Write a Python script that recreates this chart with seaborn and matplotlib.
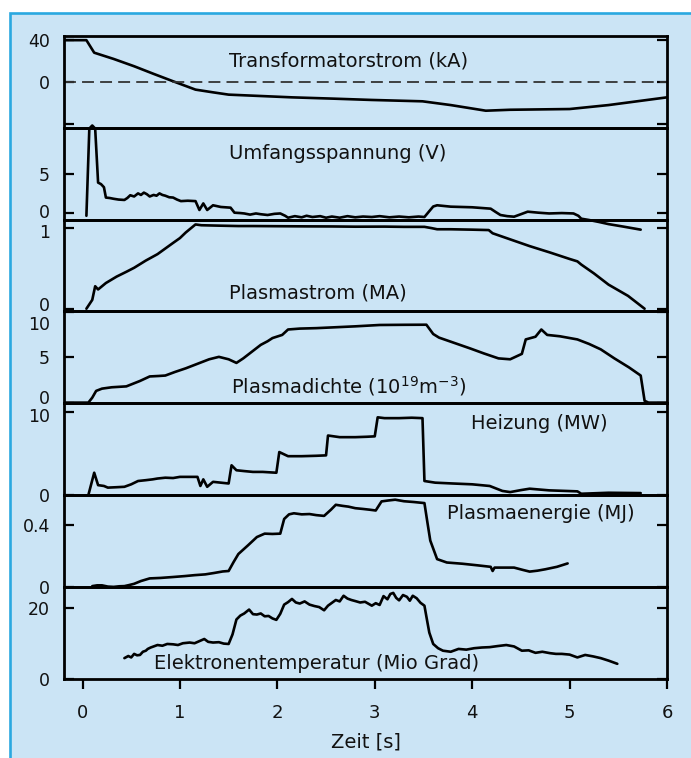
import matplotlib
matplotlib.use("Agg")
import matplotlib.pyplot as plt
import matplotlib.transforms as mtrans
from matplotlib.patches import Rectangle
import seaborn as sns

# ---------------- data ----------------
trafo_t = [-0.19, 0.04, 0.12, 0.32, 0.53, 0.73, 0.93, 1.16, 1.34, 1.50, 1.75, 2.15,
           2.56, 2.97, 3.49, 3.78, 4.14, 4.39, 5.00, 5.40, 6.00]
trafo_v = [40, 40, 28, 22, 15, 7.7, 0.6, -7.4, -10, -12.2, -13.2, -14.8,
           -16, -17.3, -18.6, -22.2, -27.6, -26.7, -26, -22.2, -14.8]

umf_t = [0.04, 0.07, 0.10, 0.13, 0.16, 0.19, 0.22, 0.24, 0.28, 0.32, 0.37, 0.43, 0.46,
         0.49, 0.53, 0.57, 0.60, 0.63, 0.66, 0.69, 0.73, 0.76, 0.79, 0.82, 0.85, 0.89,
         0.93, 0.97, 1.01, 1.08, 1.16, 1.20, 1.24, 1.28, 1.34, 1.42, 1.52, 1.56, 1.62,
         1.66, 1.72, 1.78, 1.83, 1.90, 1.97, 2.03, 2.08, 2.11, 2.18, 2.25, 2.30, 2.36,
         2.44, 2.50, 2.56, 2.64, 2.72, 2.80, 2.88, 2.97, 3.05, 3.15, 3.25, 3.35, 3.45,
         3.51, 3.56, 3.60, 3.64, 3.78, 4.00, 4.19, 4.24, 4.29, 4.36, 4.43, 4.50, 4.57,
         4.68, 4.79, 4.92, 5.04, 5.09, 5.12, 5.20, 5.30, 5.40, 5.55, 5.73]
umf_v = [-0.4, 10.9, 11.3, 10.9, 3.9, 3.7, 3.3, 1.96, 1.9, 1.8, 1.7, 1.65, 1.9,
         2.26, 2.1, 2.5, 2.3, 2.6, 2.4, 2.1, 2.3, 2.2, 2.5, 2.3, 2.2, 2.0,
         1.96, 1.7, 1.5, 1.55, 1.5, 0.35, 1.2, 0.35, 0.96, 0.74, 0.65, 0.0, -0.05,
         -0.1, -0.25, -0.1, -0.2, -0.3, -0.15, -0.1, -0.4, -0.65, -0.45, -0.6, -0.4, -0.56,
         -0.45, -0.65, -0.5, -0.65, -0.45, -0.6, -0.5, -0.56, -0.45, -0.6, -0.5, -0.6, -0.5,
         -0.56, 0.2, 0.8, 0.96, 0.78, 0.7, 0.52, 0.1, -0.3, -0.45, -0.52, -0.2, 0.13,
         0.0, -0.1, -0.05, -0.1, -0.4, -0.78, -0.95, -1.2, -1.48, -1.8, -2.2]

ip_t = [0.04, 0.10, 0.13, 0.16, 0.24, 0.35, 0.45, 0.53, 0.65, 0.77, 0.85, 0.93, 1.00,
        1.06, 1.16, 1.22, 1.40, 1.60, 1.75, 2.00, 2.30, 2.56, 2.80, 3.10, 3.30, 3.51,
        3.58, 3.64, 3.78, 4.00, 4.17, 4.21, 4.40, 4.59, 4.80, 5.00, 5.08, 5.12, 5.25,
        5.40, 5.60, 5.77]
ip_v = [0, 0.11, 0.28, 0.24, 0.32, 0.40, 0.46, 0.51, 0.60, 0.68, 0.75, 0.82, 0.88,
        0.95, 1.05, 1.04, 1.035, 1.03, 1.03, 1.028, 1.026, 1.025, 1.022, 1.023, 1.02, 1.02,
        1.005, 0.99, 0.99, 0.985, 0.98, 0.94, 0.86, 0.78, 0.70, 0.62, 0.59, 0.55, 0.44,
        0.30, 0.16, 0.0]

ne_t = [-0.19, 0.06, 0.10, 0.14, 0.20, 0.30, 0.45, 0.52, 0.59, 0.69, 0.78, 0.85, 0.95,
        1.06, 1.18, 1.30, 1.40, 1.50, 1.58, 1.65, 1.71, 1.77, 1.83, 1.90, 1.95, 2.05,
        2.11, 2.23, 2.40, 2.56, 2.80, 3.05, 3.30, 3.53, 3.60, 3.66, 3.82, 3.98, 4.12,
        4.27, 4.39, 4.51, 4.55, 4.65, 4.71, 4.77, 4.90, 5.08, 5.20, 5.32, 5.46, 5.61,
        5.73, 5.77, 5.81, 6.00]
ne_v = [0, 0, 0.55, 1.3, 1.55, 1.7, 1.8, 2.1, 2.4, 2.9, 2.95, 3.0, 3.4,
        3.8, 4.3, 4.8, 5.07, 4.8, 4.4, 4.9, 5.4, 5.9, 6.4, 6.8, 7.15, 7.5,
        8.1, 8.2, 8.25, 8.33, 8.45, 8.6, 8.62, 8.63, 7.6, 7.2, 6.6, 6.0, 5.45,
        4.9, 4.8, 5.4, 7.0, 7.3, 8.1, 7.5, 7.35, 7.0, 6.5, 5.9, 4.9, 3.9,
        3.0, 0.2, 0, 0]

heiz_t = [0.06, 0.12, 0.16, 0.22, 0.26, 0.35, 0.43, 0.50, 0.57, 0.65, 0.72, 0.77, 0.85,
          0.93, 1.00, 1.08, 1.18, 1.21, 1.24, 1.28, 1.34, 1.42, 1.50, 1.53, 1.58, 1.66,
          1.75, 1.85, 1.99, 2.02, 2.11, 2.25, 2.40, 2.50, 2.52, 2.64, 2.80, 2.92, 3.00,
          3.03, 3.10, 3.25, 3.38, 3.49, 3.51, 3.62, 3.80, 4.00, 4.18, 4.31, 4.39, 4.50,
          4.59, 4.79, 5.08, 5.12, 5.40, 5.73]
heiz_v = [0, 2.7, 1.2, 1.1, 0.9, 0.95, 1.0, 1.3, 1.7, 1.8, 1.9, 2.0, 2.1,
          2.06, 2.2, 2.2, 2.2, 1.1, 1.9, 1.0, 1.6, 1.5, 1.4, 3.6, 3.0, 2.9,
          2.8, 2.8, 2.7, 5.2, 4.7, 4.7, 4.75, 4.8, 7.2, 7.0, 7.0, 7.05, 7.1,
          9.4, 9.3, 9.3, 9.35, 9.3, 1.7, 1.5, 1.4, 1.3, 1.1, 0.5, 0.36, 0.6,
          0.77, 0.57, 0.45, 0.16, 0.28, 0.24]

wp_t = [0.10, 0.15, 0.20, 0.26, 0.32, 0.38, 0.43, 0.48, 0.53, 0.60, 0.69, 0.80, 0.93,
        1.05, 1.15, 1.26, 1.35, 1.44, 1.50, 1.55, 1.60, 1.70, 1.79, 1.87, 1.95, 2.03,
        2.07, 2.12, 2.17, 2.25, 2.33, 2.40, 2.48, 2.55, 2.60, 2.67, 2.73, 2.80, 2.88,
        2.95, 3.01, 3.07, 3.14, 3.21, 3.30, 3.40, 3.51, 3.54, 3.57, 3.64, 3.74, 3.90,
        4.05, 4.19, 4.21, 4.23, 4.33, 4.43, 4.52, 4.59, 4.67, 4.75, 4.87, 4.98]
wp_v = [0.005, 0.01, 0.01, 0.002, 0.0, 0.004, 0.005, 0.012, 0.02, 0.038, 0.055, 0.058, 0.064,
        0.07, 0.076, 0.081, 0.09, 0.1, 0.103, 0.16, 0.213, 0.27, 0.323, 0.345, 0.343, 0.345,
        0.44, 0.47, 0.477, 0.47, 0.472, 0.465, 0.46, 0.50, 0.532, 0.525, 0.52, 0.51, 0.505,
        0.50, 0.495, 0.554, 0.56, 0.565, 0.555, 0.55, 0.543, 0.42, 0.30, 0.18, 0.158, 0.15,
        0.14, 0.13, 0.103, 0.125, 0.125, 0.125, 0.11, 0.099, 0.105, 0.114, 0.13, 0.152]

te_t = [0.43, 0.47, 0.50, 0.53, 0.56, 0.59, 0.62, 0.65, 0.67, 0.70, 0.74, 0.77, 0.82,
        0.87, 0.93, 0.98, 1.03, 1.10, 1.15, 1.20, 1.25, 1.29, 1.34, 1.40, 1.45, 1.50,
        1.54, 1.58, 1.62, 1.66, 1.71, 1.75, 1.79, 1.83, 1.87, 1.91, 1.95, 1.99, 2.03,
        2.07, 2.11, 2.15, 2.19, 2.23, 2.28, 2.33, 2.38, 2.43, 2.48, 2.52, 2.56, 2.60,
        2.64, 2.68, 2.72, 2.76, 2.80, 2.85, 2.90, 2.97, 3.01, 3.05, 3.09, 3.13, 3.16,
        3.19, 3.22, 3.25, 3.29, 3.33, 3.36, 3.39, 3.43, 3.47, 3.51, 3.54, 3.56, 3.60,
        3.65, 3.70, 3.78, 3.86, 3.94, 4.02, 4.10, 4.18, 4.26, 4.35, 4.43, 4.51, 4.58,
        4.65, 4.72, 4.80, 4.86, 4.92, 5.00, 5.08, 5.16, 5.24, 5.32, 5.40, 5.49]
te_v = [5.8, 6.4, 6.0, 7.0, 6.6, 6.7, 7.6, 7.9, 8.4, 8.8, 9.2, 9.5, 9.3,
        9.8, 9.7, 9.5, 10.0, 10.2, 10.0, 10.6, 11.2, 10.4, 10.2, 10.3, 9.9, 9.8,
        12.5, 16.7, 17.8, 18.4, 19.5, 18.2, 18.1, 18.4, 17.6, 17.7, 17.0, 16.6, 18.3,
        20.9, 21.6, 22.5, 21.5, 21.2, 21.8, 20.9, 20.5, 20.2, 19.3, 20.6, 21.4, 22.2,
        21.8, 23.4, 22.6, 22.2, 21.9, 21.5, 21.7, 20.6, 21.3, 20.8, 23.3, 22.4, 23.9,
        24.2, 22.8, 22.1, 23.6, 23.1, 22.0, 23.4, 22.7, 21.4, 20.6, 16.0, 13.0, 9.8,
        8.6, 7.9, 7.6, 8.4, 8.2, 8.6, 8.8, 8.9, 9.2, 9.5, 9.1, 7.9, 8.0,
        7.3, 7.6, 7.2, 7.0, 7.0, 6.8, 6.0, 6.7, 6.3, 5.8, 5.1, 4.2]

titles = ["Transformatorstrom (kA)", "Umfangsspannung (V)", "Plasmastrom (MA)",
          r"Plasmadichte (10$^{19}$m$^{-3}$)", "Heizung (MW)", "Plasmaenergie (MJ)",
          "Elektronentemperatur (Mio Grad)"]
title_pos = [(2.73, 20.5), (2.62, 7.7), (2.42, 0.196), (2.73, 1.85),
             (4.69, 8.6), (4.70, 0.477), (2.40, 4.2)]
series = [(trafo_t, trafo_v), (umf_t, umf_v), (ip_t, ip_v), (ne_t, ne_v),
          (heiz_t, heiz_v), (wp_t, wp_v), (te_t, te_v)]
ylims = [(-44, 44), (-0.9, 11.0), (-0.034, 1.11), (-0.07, 10.1),
         (0, 11.1), (0, 0.595), (0, 25.9)]
yticks = [[-40, 0, 40], [0, 5], [0, 1], [0, 5, 10], [0, 10], [0, 0.4], [0, 20]]
yticklabels = [["", "0", "40"], ["0", "5"], ["0", "1"], ["0", "5", "10"],
               ["0", "10"], ["0", "0.4"], ["0", "20"]]
# tick-label nudges in px (positive = down), as in the reference
label_shift = {(1, 0): -2, (2, 1): 3, (2, 0): -5, (3, 0): -6, (3, 2): 11, (4, 1): 3}
xticks = [0, 1, 2, 3, 4, 5, 6]

# ---------------- style ----------------
sns.set_theme(style="ticks")
plt.rcParams["font.family"] = ["DejaVu Sans"]
plt.rcParams["mathtext.default"] = "regular"
plt.rcParams["text.color"] = "#111111"

BG = "#cbe4f5"
fig = plt.figure(figsize=(6.91, 7.58), dpi=100, facecolor="white")
fig.patches.append(Rectangle((9.5 / 691, -0.05), 1.2, 1 - 12.5 / 758 + 0.05,
                             transform=fig.transFigure, facecolor=BG,
                             edgecolor="#2aa8e0", lw=1.9, zorder=-10))

left, right = 64 / 691, 667 / 691
top, bottom = 1 - 36 / 758, 1 - 678.7 / 758
h = (top - bottom) / 7

for i in range(7):
    ax = fig.add_axes([left, top - (i + 1) * h, right - left, h])
    ax.set_facecolor("none")
    t, v = series[i]
    sns.lineplot(x=t, y=v, ax=ax, color="black", lw=1.9, estimator=None,
                 sort=False, legend=False)
    if i == 1:
        ax.lines[-1].set_clip_on(False)
    if i == 0:
        ax.axhline(0, color="#333333", lw=1.3, ls=(0, (6.6, 3.4)))
    ax.set_xlim(-0.19, 6.0)
    ax.set_ylim(*ylims[i])
    ax.set_yticks(yticks[i])
    ax.set_yticklabels(yticklabels[i], fontsize=12.5, color="#111111")
    ax.set_xlabel("")
    ax.set_ylabel("")
    for s in ax.spines.values():
        s.set_linewidth(2.0)
        s.set_color("black")
    ax.tick_params(axis="y", which="both", direction="in", left=True, right=True,
                   length=7, width=1.6, pad=10, color="black")
    if i < 6:
        ax.tick_params(axis="x", bottom=False, labelbottom=False)
    else:
        ax.set_xticks(xticks)
        ax.set_xticklabels([str(x) for x in xticks], fontsize=13, color="#111111")
        ax.tick_params(axis="x", direction="out", length=7, width=1.6, pad=11,
                       color="black")
        ax.set_xlabel("Zeit [s]", fontsize=14, labelpad=8, color="#111111")
    ax.text(title_pos[i][0], title_pos[i][1], titles[i], ha="center", va="center",
            fontsize=14, color="#111111")
    labs = ax.get_yticklabels()
    for (pi, li), dy in label_shift.items():
        if pi == i:
            lab = labs[li]
            lab.set_transform(lab.get_transform() +
                              mtrans.ScaledTranslation(0, -dy / 100, fig.dpi_scale_trans))

fig.savefig("out.png", dpi=100, facecolor="white")
